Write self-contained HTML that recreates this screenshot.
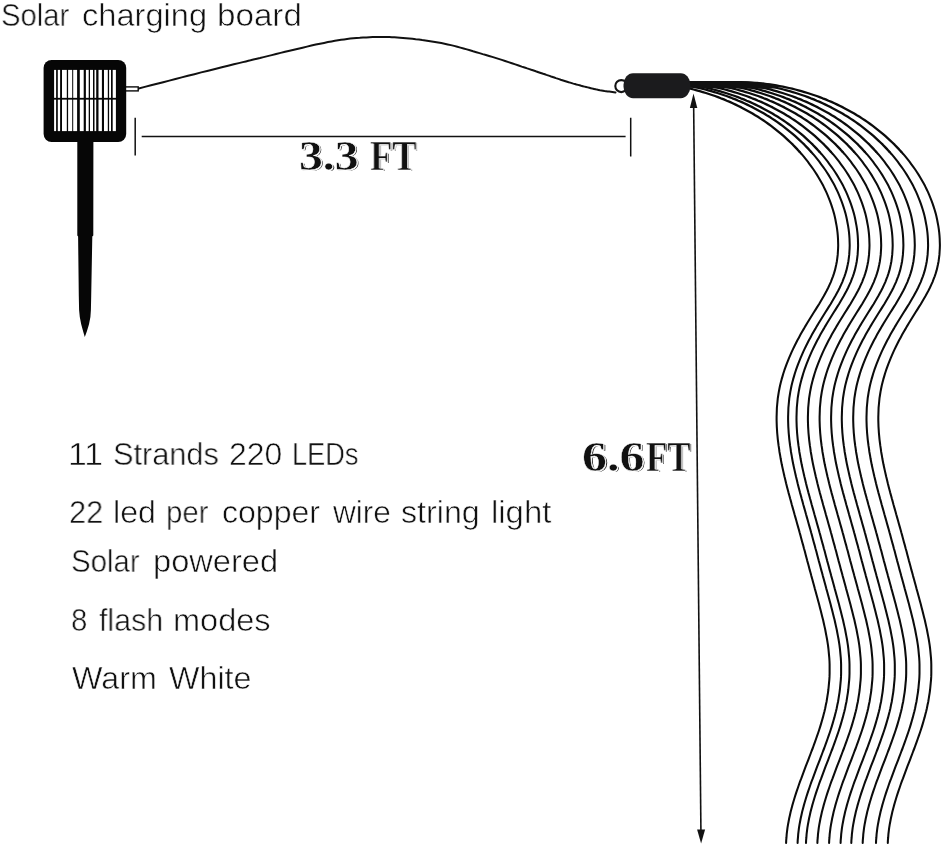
<!DOCTYPE html>
<html>
<head>
<meta charset="utf-8">
<title>Solar charging board</title>
<style>
html,body{margin:0;padding:0;background:#fff;}
body{width:943px;height:848px;position:relative;overflow:hidden;font-family:"Liberation Sans",sans-serif;}
svg{position:absolute;left:0;top:0;}
.t{will-change:transform;position:absolute;white-space:nowrap;color:#111;-webkit-text-stroke:0.55px #fff;font-family:"Liberation Sans",sans-serif;font-size:31.5px;line-height:31.5px;transform-origin:0 0;}
.d{will-change:transform;position:absolute;white-space:nowrap;color:#111;-webkit-text-stroke:0.45px #fff;text-shadow:0.7px 0.7px 0 #fff,0.7px 0 0 #fff,0 0.7px 0 #fff,1.4px 1.4px 0 #222;font-family:"Liberation Serif",serif;font-weight:bold;font-size:42px;line-height:42px;transform-origin:0 0;}
</style>
</head>
<body>
<svg width="943" height="848" viewBox="0 0 943 848">
<g fill="none" stroke="#0b0b0b" stroke-linecap="round" stroke-linejoin="round">
<path d="M687.3 88.0 L690.4 88.7 L693.6 89.5 L696.7 90.3 L699.7 91.2 L702.8 92.1 L705.9 93.0 L708.9 94.0 L711.9 95.0 L715.0 96.0 L718.0 97.1 L720.9 98.3 L723.9 99.4 L726.8 100.7 L729.8 101.9 L732.7 103.2 L735.6 104.6 L738.4 106.0 L741.3 107.4 L744.1 108.9 L746.9 110.4 L749.7 111.9 L752.5 113.5 L755.2 115.2 L757.9 116.8 L760.6 118.6 L763.2 120.3 L765.9 122.1 L768.5 124.0 L771.1 125.9 L773.6 127.8 L776.1 129.8 L778.6 131.8 L781.1 133.8 L783.5 135.9 L785.9 138.1 L788.3 140.3 L790.6 142.5 L792.9 144.7 L795.2 147.1 L797.4 149.4 L799.5 151.8" stroke-width="2.3"/>
<path d="M799.5 151.8 L801.7 154.2 L803.8 156.7 L805.8 159.2 L807.8 161.7 L809.7 164.3 L811.6 166.9 L813.5 169.5 L815.3 172.2 L817.0 174.9 L818.7 177.7 L820.3 180.5 L821.9 183.3 L823.4 186.1 L824.8 189.0 L826.2 191.9 L827.5 194.9 L828.7 197.8 L829.9 200.8 L831.0 203.9 L832.0 206.9 L833.0 210.0 L833.9 213.1 L834.7 216.3 L835.4 219.5 L836.0 222.7 L836.6 225.9 L837.1 229.1 L837.5 232.3 L837.8 235.6 L838.0 238.8 L838.1 242.1 L838.2 245.3 L838.1 248.5 L837.9 251.7 L837.7 254.9 L837.3 258.1 L836.9 261.2 L836.3 264.3 L835.6 267.4 L834.9 270.4 L834.0 273.4 L833.0 276.3 L831.9 279.2 L830.8 282.1 L829.5 284.9 L828.2 287.7 L826.8 290.5 L825.3 293.2 L823.8 296.0 L822.2 298.7 L820.6 301.4 L819.0 304.2 L817.3 306.9 L815.6 309.6 L813.9 312.3 L812.2 315.0 L810.5 317.8 L808.8 320.5 L807.1 323.3 L805.4 326.1 L803.8 328.9 L802.1 331.7 L800.5 334.6 L799.0 337.4 L797.4 340.3 L795.9 343.3 L794.4 346.2 L793.0 349.1 L791.6 352.1 L790.3 355.1 L789.0 358.1 L787.8 361.1 L786.6 364.1 L785.5 367.2 L784.4 370.2 L783.4 373.3 L782.5 376.4 L781.6 379.4 L780.8 382.5 L780.0 385.7 L779.4 388.8 L778.8 391.9 L778.3 395.0 L777.8 398.2 L777.5 401.3 L777.2 404.5 L776.9 407.6 L776.8 410.8 L776.7 414.0 L776.6 417.1 L776.6 420.3 L776.7 423.5 L776.8 426.6 L777.0 429.8 L777.2 433.0 L777.5 436.2 L777.8 439.3 L778.2 442.5 L778.6 445.7 L779.1 448.8 L779.5 452.0 L780.1 455.2 L780.6 458.3 L781.2 461.5 L781.8 464.6 L782.5 467.7 L783.2 470.9 L783.9 474.0 L784.6 477.1 L785.4 480.2 L786.1 483.3 L786.9 486.4 L787.7 489.5 L788.5 492.6 L789.4 495.7 L790.2 498.8 L791.1 501.9 L791.9 505.0 L792.8 508.1 L793.7 511.2 L794.5 514.3 L795.4 517.4 L796.3 520.5 L797.1 523.5 L798.0 526.6 L798.9 529.7 L799.7 532.8 L800.6 535.9 L801.4 539.0 L802.2 542.0 L803.1 545.1 L803.9 548.2 L804.8 551.3 L805.6 554.4 L806.4 557.5 L807.2 560.6 L808.1 563.7 L808.9 566.8 L809.7 569.9 L810.6 573.0 L811.4 576.1 L812.3 579.2 L813.1 582.3 L814.0 585.5 L814.8 588.6 L815.7 591.7 L816.5 594.8 L817.4 598.0 L818.2 601.1 L819.1 604.3 L819.9 607.4 L820.7 610.6 L821.5 613.7 L822.3 616.9 L823.1 620.0 L823.8 623.2 L824.5 626.4 L825.2 629.5 L825.8 632.7 L826.4 635.9 L827.0 639.0 L827.5 642.2 L828.0 645.4 L828.4 648.5 L828.7 651.7 L829.0 654.8 L829.3 658.0 L829.5 661.2 L829.6 664.3 L829.6 667.5 L829.6 670.6 L829.6 673.8 L829.5 676.9 L829.3 680.1 L829.0 683.2 L828.7 686.3 L828.4 689.5 L828.0 692.6 L827.5 695.7 L827.0 698.8 L826.5 702.0 L825.8 705.1 L825.2 708.2 L824.5 711.2 L823.7 714.3 L822.9 717.4 L822.0 720.5 L821.1 723.6 L820.2 726.6 L819.2 729.7 L818.2 732.7 L817.1 735.8 L816.1 738.8 L815.0 741.9 L813.9 744.9 L812.8 748.0 L811.6 751.0 L810.5 754.0 L809.3 757.1 L808.2 760.1 L807.0 763.2 L805.8 766.2 L804.7 769.2 L803.5 772.3 L802.4 775.3 L801.3 778.4 L800.1 781.4 L799.0 784.5 L798.0 787.5 L796.9 790.6 L795.9 793.6 L794.9 796.7 L794.0 799.8 L793.1 802.8 L792.2 805.9 L791.4 809.0 L790.6 812.1 L789.9 815.2 L789.2 818.3 L788.6 821.5 L788.0 824.6 L787.5 827.7 L787.1 830.9 L786.7 834.1 L786.5 837.2 L786.2 840.4 L786.1 843.0" stroke-width="2.05"/>
<path d="M689.4 86.1 L692.6 86.7 L695.7 87.3 L698.8 88.0 L701.9 88.7 L705.1 89.5 L708.2 90.3 L711.2 91.2 L714.3 92.1 L717.4 93.0 L720.4 94.0 L723.4 95.0 L726.5 96.0 L729.5 97.1 L732.4 98.3 L735.4 99.4 L738.3 100.7 L741.3 101.9 L744.2 103.2 L747.1 104.6 L749.9 106.0 L752.8 107.4 L755.6 108.9 L758.4 110.4 L761.2 111.9 L764.0 113.5 L766.7 115.2 L769.4 116.8 L772.1 118.6 L774.7 120.3 L777.4 122.1 L780.0 124.0 L782.6 125.9 L785.1 127.8 L787.6 129.8 L790.1 131.8 L792.6 133.8 L795.0 135.9 L797.4 138.1 L799.8 140.3 L802.1 142.5 L804.4 144.7 L806.7 147.1 L808.9 149.4 L811.0 151.8" stroke-width="2.3"/>
<path d="M811.0 151.8 L813.2 154.2 L815.3 156.7 L817.3 159.2 L819.3 161.7 L821.2 164.3 L823.1 166.9 L825.0 169.5 L826.8 172.2 L828.5 174.9 L830.2 177.7 L831.8 180.5 L833.4 183.3 L834.9 186.1 L836.3 189.0 L837.7 191.9 L839.0 194.9 L840.2 197.8 L841.4 200.8 L842.5 203.9 L843.5 206.9 L844.5 210.0 L845.4 213.1 L846.2 216.3 L846.9 219.5 L847.5 222.7 L848.1 225.9 L848.6 229.1 L849.0 232.3 L849.3 235.6 L849.5 238.8 L849.6 242.1 L849.7 245.3 L849.6 248.5 L849.4 251.7 L849.2 254.9 L848.8 258.1 L848.4 261.2 L847.8 264.3 L847.1 267.4 L846.4 270.4 L845.5 273.4 L844.5 276.3 L843.4 279.2 L842.3 282.1 L841.0 284.9 L839.7 287.7 L838.3 290.5 L836.8 293.2 L835.3 296.0 L833.7 298.7 L832.1 301.4 L830.5 304.2 L828.8 306.9 L827.1 309.6 L825.4 312.3 L823.7 315.0 L822.0 317.8 L820.3 320.5 L818.6 323.3 L816.9 326.1 L815.3 328.9 L813.6 331.7 L812.0 334.6 L810.5 337.4 L808.9 340.3 L807.4 343.3 L805.9 346.2 L804.5 349.1 L803.1 352.1 L801.8 355.1 L800.5 358.1 L799.3 361.1 L798.1 364.1 L797.0 367.2 L795.9 370.2 L794.9 373.3 L794.0 376.4 L793.1 379.4 L792.3 382.5 L791.5 385.7 L790.9 388.8 L790.3 391.9 L789.8 395.0 L789.3 398.2 L789.0 401.3 L788.7 404.5 L788.4 407.6 L788.3 410.8 L788.2 414.0 L788.1 417.1 L788.1 420.3 L788.2 423.5 L788.3 426.6 L788.5 429.8 L788.7 433.0 L789.0 436.2 L789.3 439.3 L789.7 442.5 L790.1 445.7 L790.6 448.8 L791.0 452.0 L791.6 455.2 L792.1 458.3 L792.7 461.5 L793.3 464.6 L794.0 467.7 L794.7 470.9 L795.4 474.0 L796.1 477.1 L796.9 480.2 L797.6 483.3 L798.4 486.4 L799.2 489.5 L800.0 492.6 L800.9 495.7 L801.7 498.8 L802.6 501.9 L803.4 505.0 L804.3 508.1 L805.2 511.2 L806.0 514.3 L806.9 517.4 L807.8 520.5 L808.6 523.5 L809.5 526.6 L810.4 529.7 L811.2 532.8 L812.1 535.9 L812.9 539.0 L813.7 542.0 L814.6 545.1 L815.4 548.2 L816.3 551.3 L817.1 554.4 L817.9 557.5 L818.7 560.6 L819.6 563.7 L820.4 566.8 L821.2 569.9 L822.1 573.0 L822.9 576.1 L823.8 579.2 L824.6 582.3 L825.5 585.5 L826.3 588.6 L827.2 591.7 L828.0 594.8 L828.9 598.0 L829.7 601.1 L830.6 604.3 L831.4 607.4 L832.2 610.6 L833.0 613.7 L833.8 616.9 L834.6 620.0 L835.3 623.2 L836.0 626.4 L836.7 629.5 L837.3 632.7 L837.9 635.9 L838.5 639.0 L839.0 642.2 L839.5 645.4 L839.9 648.5 L840.2 651.7 L840.5 654.8 L840.8 658.0 L841.0 661.2 L841.1 664.3 L841.1 667.5 L841.1 670.6 L841.1 673.8 L841.0 676.9 L840.8 680.1 L840.5 683.2 L840.2 686.3 L839.9 689.5 L839.5 692.6 L839.0 695.7 L838.5 698.8 L838.0 702.0 L837.3 705.1 L836.7 708.2 L836.0 711.2 L835.2 714.3 L834.4 717.4 L833.5 720.5 L832.6 723.6 L831.7 726.6 L830.7 729.7 L829.7 732.7 L828.6 735.8 L827.6 738.8 L826.5 741.9 L825.4 744.9 L824.3 748.0 L823.1 751.0 L822.0 754.0 L820.8 757.1 L819.7 760.1 L818.5 763.2 L817.3 766.2 L816.2 769.2 L815.0 772.3 L813.9 775.3 L812.8 778.4 L811.6 781.4 L810.5 784.5 L809.5 787.5 L808.4 790.6 L807.4 793.6 L806.4 796.7 L805.5 799.8 L804.6 802.8 L803.7 805.9 L802.9 809.0 L802.1 812.1 L801.4 815.2 L800.7 818.3 L800.1 821.5 L799.5 824.6 L799.0 827.7 L798.6 830.9 L798.2 834.1 L798.0 837.2 L797.7 840.4 L797.6 843.0" stroke-width="2.05"/>
<path d="M688.3 84.5 L691.5 85.0 L694.6 85.5 L697.8 86.1 L701.0 86.7 L704.1 87.3 L707.2 88.0 L710.3 88.7 L713.5 89.5 L716.6 90.3 L719.6 91.2 L722.7 92.1 L725.8 93.0 L728.8 94.0 L731.8 95.0 L734.9 96.0 L737.9 97.1 L740.8 98.3 L743.8 99.4 L746.7 100.7 L749.7 101.9 L752.6 103.2 L755.5 104.6 L758.3 106.0 L761.2 107.4 L764.0 108.9 L766.8 110.4 L769.6 111.9 L772.4 113.5 L775.1 115.2 L777.8 116.8 L780.5 118.6 L783.1 120.3 L785.8 122.1 L788.4 124.0 L791.0 125.9 L793.5 127.8 L796.0 129.8 L798.5 131.8 L801.0 133.8 L803.4 135.9 L805.8 138.1 L808.2 140.3 L810.5 142.5 L812.8 144.7 L815.1 147.1 L817.3 149.4 L819.4 151.8" stroke-width="2.3"/>
<path d="M819.4 151.8 L821.6 154.2 L823.7 156.7 L825.7 159.2 L827.7 161.7 L829.6 164.3 L831.5 166.9 L833.4 169.5 L835.2 172.2 L836.9 174.9 L838.6 177.7 L840.2 180.5 L841.8 183.3 L843.3 186.1 L844.7 189.0 L846.1 191.9 L847.4 194.9 L848.6 197.8 L849.8 200.8 L850.9 203.9 L851.9 206.9 L852.9 210.0 L853.8 213.1 L854.6 216.3 L855.3 219.5 L855.9 222.7 L856.5 225.9 L857.0 229.1 L857.4 232.3 L857.7 235.6 L857.9 238.8 L858.0 242.1 L858.1 245.3 L858.0 248.5 L857.8 251.7 L857.6 254.9 L857.2 258.1 L856.8 261.2 L856.2 264.3 L855.5 267.4 L854.8 270.4 L853.9 273.4 L852.9 276.3 L851.8 279.2 L850.7 282.1 L849.4 284.9 L848.1 287.7 L846.7 290.5 L845.2 293.2 L843.7 296.0 L842.1 298.7 L840.5 301.4 L838.9 304.2 L837.2 306.9 L835.5 309.6 L833.8 312.3 L832.1 315.0 L830.4 317.8 L828.7 320.5 L827.0 323.3 L825.3 326.1 L823.7 328.9 L822.0 331.7 L820.4 334.6 L818.9 337.4 L817.3 340.3 L815.8 343.3 L814.3 346.2 L812.9 349.1 L811.5 352.1 L810.2 355.1 L808.9 358.1 L807.7 361.1 L806.5 364.1 L805.4 367.2 L804.3 370.2 L803.3 373.3 L802.4 376.4 L801.5 379.4 L800.7 382.5 L799.9 385.7 L799.3 388.8 L798.7 391.9 L798.2 395.0 L797.7 398.2 L797.4 401.3 L797.1 404.5 L796.8 407.6 L796.7 410.8 L796.6 414.0 L796.5 417.1 L796.5 420.3 L796.6 423.5 L796.7 426.6 L796.9 429.8 L797.1 433.0 L797.4 436.2 L797.7 439.3 L798.1 442.5 L798.5 445.7 L799.0 448.8 L799.4 452.0 L800.0 455.2 L800.5 458.3 L801.1 461.5 L801.7 464.6 L802.4 467.7 L803.1 470.9 L803.8 474.0 L804.5 477.1 L805.3 480.2 L806.0 483.3 L806.8 486.4 L807.6 489.5 L808.4 492.6 L809.3 495.7 L810.1 498.8 L811.0 501.9 L811.8 505.0 L812.7 508.1 L813.6 511.2 L814.4 514.3 L815.3 517.4 L816.2 520.5 L817.0 523.5 L817.9 526.6 L818.8 529.7 L819.6 532.8 L820.5 535.9 L821.3 539.0 L822.1 542.0 L823.0 545.1 L823.8 548.2 L824.7 551.3 L825.5 554.4 L826.3 557.5 L827.1 560.6 L828.0 563.7 L828.8 566.8 L829.6 569.9 L830.5 573.0 L831.3 576.1 L832.2 579.2 L833.0 582.3 L833.9 585.5 L834.7 588.6 L835.6 591.7 L836.4 594.8 L837.3 598.0 L838.1 601.1 L839.0 604.3 L839.8 607.4 L840.6 610.6 L841.4 613.7 L842.2 616.9 L843.0 620.0 L843.7 623.2 L844.4 626.4 L845.1 629.5 L845.7 632.7 L846.3 635.9 L846.9 639.0 L847.4 642.2 L847.9 645.4 L848.3 648.5 L848.6 651.7 L848.9 654.8 L849.2 658.0 L849.4 661.2 L849.5 664.3 L849.5 667.5 L849.5 670.6 L849.5 673.8 L849.4 676.9 L849.2 680.1 L848.9 683.2 L848.6 686.3 L848.3 689.5 L847.9 692.6 L847.4 695.7 L846.9 698.8 L846.4 702.0 L845.7 705.1 L845.1 708.2 L844.4 711.2 L843.6 714.3 L842.8 717.4 L841.9 720.5 L841.0 723.6 L840.1 726.6 L839.1 729.7 L838.1 732.7 L837.0 735.8 L836.0 738.8 L834.9 741.9 L833.8 744.9 L832.7 748.0 L831.5 751.0 L830.4 754.0 L829.2 757.1 L828.1 760.1 L826.9 763.2 L825.7 766.2 L824.6 769.2 L823.4 772.3 L822.3 775.3 L821.2 778.4 L820.0 781.4 L818.9 784.5 L817.9 787.5 L816.8 790.6 L815.8 793.6 L814.8 796.7 L813.9 799.8 L813.0 802.8 L812.1 805.9 L811.3 809.0 L810.5 812.1 L809.8 815.2 L809.1 818.3 L808.5 821.5 L807.9 824.6 L807.4 827.7 L807.0 830.9 L806.6 834.1 L806.4 837.2 L806.1 840.4 L806.0 843.0" stroke-width="2.05"/>
<path d="M690.1 83.3 L693.3 83.7 L696.5 84.1 L699.7 84.5 L702.9 85.0 L706.0 85.5 L709.2 86.1 L712.4 86.7 L715.5 87.3 L718.6 88.0 L721.7 88.7 L724.9 89.5 L728.0 90.3 L731.0 91.2 L734.1 92.1 L737.2 93.0 L740.2 94.0 L743.2 95.0 L746.3 96.0 L749.3 97.1 L752.2 98.3 L755.2 99.4 L758.1 100.7 L761.1 101.9 L764.0 103.2 L766.9 104.6 L769.7 106.0 L772.6 107.4 L775.4 108.9 L778.2 110.4 L781.0 111.9 L783.8 113.5 L786.5 115.2 L789.2 116.8 L791.9 118.6 L794.5 120.3 L797.2 122.1 L799.8 124.0 L802.4 125.9 L804.9 127.8 L807.4 129.8 L809.9 131.8 L812.4 133.8 L814.8 135.9 L817.2 138.1 L819.6 140.3 L821.9 142.5 L824.2 144.7 L826.5 147.1 L828.7 149.4 L830.8 151.8" stroke-width="2.3"/>
<path d="M830.8 151.8 L833.0 154.2 L835.1 156.7 L837.1 159.2 L839.1 161.7 L841.0 164.3 L842.9 166.9 L844.8 169.5 L846.6 172.2 L848.3 174.9 L850.0 177.7 L851.6 180.5 L853.2 183.3 L854.7 186.1 L856.1 189.0 L857.5 191.9 L858.8 194.9 L860.0 197.8 L861.2 200.8 L862.3 203.9 L863.3 206.9 L864.3 210.0 L865.2 213.1 L866.0 216.3 L866.7 219.5 L867.3 222.7 L867.9 225.9 L868.4 229.1 L868.8 232.3 L869.1 235.6 L869.3 238.8 L869.4 242.1 L869.5 245.3 L869.4 248.5 L869.2 251.7 L869.0 254.9 L868.6 258.1 L868.2 261.2 L867.6 264.3 L866.9 267.4 L866.2 270.4 L865.3 273.4 L864.3 276.3 L863.2 279.2 L862.1 282.1 L860.8 284.9 L859.5 287.7 L858.1 290.5 L856.6 293.2 L855.1 296.0 L853.5 298.7 L851.9 301.4 L850.3 304.2 L848.6 306.9 L846.9 309.6 L845.2 312.3 L843.5 315.0 L841.8 317.8 L840.1 320.5 L838.4 323.3 L836.7 326.1 L835.1 328.9 L833.4 331.7 L831.8 334.6 L830.3 337.4 L828.7 340.3 L827.2 343.3 L825.7 346.2 L824.3 349.1 L822.9 352.1 L821.6 355.1 L820.3 358.1 L819.1 361.1 L817.9 364.1 L816.8 367.2 L815.7 370.2 L814.7 373.3 L813.8 376.4 L812.9 379.4 L812.1 382.5 L811.3 385.7 L810.7 388.8 L810.1 391.9 L809.6 395.0 L809.1 398.2 L808.8 401.3 L808.5 404.5 L808.2 407.6 L808.1 410.8 L808.0 414.0 L807.9 417.1 L807.9 420.3 L808.0 423.5 L808.1 426.6 L808.3 429.8 L808.5 433.0 L808.8 436.2 L809.1 439.3 L809.5 442.5 L809.9 445.7 L810.4 448.8 L810.8 452.0 L811.4 455.2 L811.9 458.3 L812.5 461.5 L813.1 464.6 L813.8 467.7 L814.5 470.9 L815.2 474.0 L815.9 477.1 L816.7 480.2 L817.4 483.3 L818.2 486.4 L819.0 489.5 L819.8 492.6 L820.7 495.7 L821.5 498.8 L822.4 501.9 L823.2 505.0 L824.1 508.1 L825.0 511.2 L825.8 514.3 L826.7 517.4 L827.6 520.5 L828.4 523.5 L829.3 526.6 L830.2 529.7 L831.0 532.8 L831.9 535.9 L832.7 539.0 L833.5 542.0 L834.4 545.1 L835.2 548.2 L836.1 551.3 L836.9 554.4 L837.7 557.5 L838.5 560.6 L839.4 563.7 L840.2 566.8 L841.0 569.9 L841.9 573.0 L842.7 576.1 L843.6 579.2 L844.4 582.3 L845.3 585.5 L846.1 588.6 L847.0 591.7 L847.8 594.8 L848.7 598.0 L849.5 601.1 L850.4 604.3 L851.2 607.4 L852.0 610.6 L852.8 613.7 L853.6 616.9 L854.4 620.0 L855.1 623.2 L855.8 626.4 L856.5 629.5 L857.1 632.7 L857.7 635.9 L858.3 639.0 L858.8 642.2 L859.3 645.4 L859.7 648.5 L860.0 651.7 L860.3 654.8 L860.6 658.0 L860.8 661.2 L860.9 664.3 L860.9 667.5 L860.9 670.6 L860.9 673.8 L860.8 676.9 L860.6 680.1 L860.3 683.2 L860.0 686.3 L859.7 689.5 L859.3 692.6 L858.8 695.7 L858.3 698.8 L857.8 702.0 L857.1 705.1 L856.5 708.2 L855.8 711.2 L855.0 714.3 L854.2 717.4 L853.3 720.5 L852.4 723.6 L851.5 726.6 L850.5 729.7 L849.5 732.7 L848.4 735.8 L847.4 738.8 L846.3 741.9 L845.2 744.9 L844.1 748.0 L842.9 751.0 L841.8 754.0 L840.6 757.1 L839.5 760.1 L838.3 763.2 L837.1 766.2 L836.0 769.2 L834.8 772.3 L833.7 775.3 L832.6 778.4 L831.4 781.4 L830.3 784.5 L829.3 787.5 L828.2 790.6 L827.2 793.6 L826.2 796.7 L825.3 799.8 L824.4 802.8 L823.5 805.9 L822.7 809.0 L821.9 812.1 L821.2 815.2 L820.5 818.3 L819.9 821.5 L819.3 824.6 L818.8 827.7 L818.4 830.9 L818.0 834.1 L817.8 837.2 L817.5 840.4 L817.4 843.0" stroke-width="2.05"/>
<path d="M689.0 82.4 L692.2 82.6 L695.4 82.8 L698.6 83.0 L701.8 83.3 L705.0 83.7 L708.2 84.1 L711.4 84.5 L714.6 85.0 L717.7 85.5 L720.9 86.1 L724.1 86.7 L727.2 87.3 L730.3 88.0 L733.4 88.7 L736.6 89.5 L739.7 90.3 L742.7 91.2 L745.8 92.1 L748.9 93.0 L751.9 94.0 L754.9 95.0 L758.0 96.0 L761.0 97.1 L763.9 98.3 L766.9 99.4 L769.8 100.7 L772.8 101.9 L775.7 103.2 L778.6 104.6 L781.4 106.0 L784.3 107.4 L787.1 108.9 L789.9 110.4 L792.7 111.9 L795.5 113.5 L798.2 115.2 L800.9 116.8 L803.6 118.6 L806.2 120.3 L808.9 122.1 L811.5 124.0 L814.1 125.9 L816.6 127.8 L819.1 129.8 L821.6 131.8 L824.1 133.8 L826.5 135.9 L828.9 138.1 L831.3 140.3 L833.6 142.5 L835.9 144.7 L838.2 147.1 L840.4 149.4 L842.5 151.8" stroke-width="2.3"/>
<path d="M842.5 151.8 L844.7 154.2 L846.8 156.7 L848.8 159.2 L850.8 161.7 L852.7 164.3 L854.6 166.9 L856.5 169.5 L858.3 172.2 L860.0 174.9 L861.7 177.7 L863.3 180.5 L864.9 183.3 L866.4 186.1 L867.8 189.0 L869.2 191.9 L870.5 194.9 L871.7 197.8 L872.9 200.8 L874.0 203.9 L875.0 206.9 L876.0 210.0 L876.9 213.1 L877.7 216.3 L878.4 219.5 L879.0 222.7 L879.6 225.9 L880.1 229.1 L880.5 232.3 L880.8 235.6 L881.0 238.8 L881.1 242.1 L881.2 245.3 L881.1 248.5 L880.9 251.7 L880.7 254.9 L880.3 258.1 L879.9 261.2 L879.3 264.3 L878.6 267.4 L877.9 270.4 L877.0 273.4 L876.0 276.3 L874.9 279.2 L873.8 282.1 L872.5 284.9 L871.2 287.7 L869.8 290.5 L868.3 293.2 L866.8 296.0 L865.2 298.7 L863.6 301.4 L862.0 304.2 L860.3 306.9 L858.6 309.6 L856.9 312.3 L855.2 315.0 L853.5 317.8 L851.8 320.5 L850.1 323.3 L848.4 326.1 L846.8 328.9 L845.1 331.7 L843.5 334.6 L842.0 337.4 L840.4 340.3 L838.9 343.3 L837.4 346.2 L836.0 349.1 L834.6 352.1 L833.3 355.1 L832.0 358.1 L830.8 361.1 L829.6 364.1 L828.5 367.2 L827.4 370.2 L826.4 373.3 L825.5 376.4 L824.6 379.4 L823.8 382.5 L823.0 385.7 L822.4 388.8 L821.8 391.9 L821.3 395.0 L820.8 398.2 L820.5 401.3 L820.2 404.5 L819.9 407.6 L819.8 410.8 L819.7 414.0 L819.6 417.1 L819.6 420.3 L819.7 423.5 L819.8 426.6 L820.0 429.8 L820.2 433.0 L820.5 436.2 L820.8 439.3 L821.2 442.5 L821.6 445.7 L822.1 448.8 L822.5 452.0 L823.1 455.2 L823.6 458.3 L824.2 461.5 L824.8 464.6 L825.5 467.7 L826.2 470.9 L826.9 474.0 L827.6 477.1 L828.4 480.2 L829.1 483.3 L829.9 486.4 L830.7 489.5 L831.5 492.6 L832.4 495.7 L833.2 498.8 L834.1 501.9 L834.9 505.0 L835.8 508.1 L836.7 511.2 L837.5 514.3 L838.4 517.4 L839.3 520.5 L840.1 523.5 L841.0 526.6 L841.9 529.7 L842.7 532.8 L843.6 535.9 L844.4 539.0 L845.2 542.0 L846.1 545.1 L846.9 548.2 L847.8 551.3 L848.6 554.4 L849.4 557.5 L850.2 560.6 L851.1 563.7 L851.9 566.8 L852.7 569.9 L853.6 573.0 L854.4 576.1 L855.3 579.2 L856.1 582.3 L857.0 585.5 L857.8 588.6 L858.7 591.7 L859.5 594.8 L860.4 598.0 L861.2 601.1 L862.1 604.3 L862.9 607.4 L863.7 610.6 L864.5 613.7 L865.3 616.9 L866.1 620.0 L866.8 623.2 L867.5 626.4 L868.2 629.5 L868.8 632.7 L869.4 635.9 L870.0 639.0 L870.5 642.2 L871.0 645.4 L871.4 648.5 L871.7 651.7 L872.0 654.8 L872.3 658.0 L872.5 661.2 L872.6 664.3 L872.6 667.5 L872.6 670.6 L872.6 673.8 L872.5 676.9 L872.3 680.1 L872.0 683.2 L871.7 686.3 L871.4 689.5 L871.0 692.6 L870.5 695.7 L870.0 698.8 L869.5 702.0 L868.8 705.1 L868.2 708.2 L867.5 711.2 L866.7 714.3 L865.9 717.4 L865.0 720.5 L864.1 723.6 L863.2 726.6 L862.2 729.7 L861.2 732.7 L860.1 735.8 L859.1 738.8 L858.0 741.9 L856.9 744.9 L855.8 748.0 L854.6 751.0 L853.5 754.0 L852.3 757.1 L851.2 760.1 L850.0 763.2 L848.8 766.2 L847.7 769.2 L846.5 772.3 L845.4 775.3 L844.3 778.4 L843.1 781.4 L842.0 784.5 L841.0 787.5 L839.9 790.6 L838.9 793.6 L837.9 796.7 L837.0 799.8 L836.1 802.8 L835.2 805.9 L834.4 809.0 L833.6 812.1 L832.9 815.2 L832.2 818.3 L831.6 821.5 L831.0 824.6 L830.5 827.7 L830.1 830.9 L829.7 834.1 L829.5 837.2 L829.2 840.4 L829.1 843.0" stroke-width="2.05"/>
<path d="M687.7 82.1 L690.9 82.2 L694.1 82.2 L697.3 82.3 L700.5 82.4 L703.7 82.6 L706.9 82.8 L710.1 83.0 L713.3 83.3 L716.5 83.7 L719.7 84.1 L722.9 84.5 L726.1 85.0 L729.2 85.5 L732.4 86.1 L735.6 86.7 L738.7 87.3 L741.8 88.0 L744.9 88.7 L748.1 89.5 L751.2 90.3 L754.2 91.2 L757.3 92.1 L760.4 93.0 L763.4 94.0 L766.4 95.0 L769.5 96.0 L772.5 97.1 L775.4 98.3 L778.4 99.4 L781.3 100.7 L784.3 101.9 L787.2 103.2 L790.1 104.6 L792.9 106.0 L795.8 107.4 L798.6 108.9 L801.4 110.4 L804.2 111.9 L807.0 113.5 L809.7 115.2 L812.4 116.8 L815.1 118.6 L817.7 120.3 L820.4 122.1 L823.0 124.0 L825.6 125.9 L828.1 127.8 L830.6 129.8 L833.1 131.8 L835.6 133.8 L838.0 135.9 L840.4 138.1 L842.8 140.3 L845.1 142.5 L847.4 144.7 L849.7 147.1 L851.9 149.4 L854.0 151.8" stroke-width="2.3"/>
<path d="M854.0 151.8 L856.2 154.2 L858.3 156.7 L860.3 159.2 L862.3 161.7 L864.2 164.3 L866.1 166.9 L868.0 169.5 L869.8 172.2 L871.5 174.9 L873.2 177.7 L874.8 180.5 L876.4 183.3 L877.9 186.1 L879.3 189.0 L880.7 191.9 L882.0 194.9 L883.2 197.8 L884.4 200.8 L885.5 203.9 L886.5 206.9 L887.5 210.0 L888.4 213.1 L889.2 216.3 L889.9 219.5 L890.5 222.7 L891.1 225.9 L891.6 229.1 L892.0 232.3 L892.3 235.6 L892.5 238.8 L892.6 242.1 L892.7 245.3 L892.6 248.5 L892.4 251.7 L892.2 254.9 L891.8 258.1 L891.4 261.2 L890.8 264.3 L890.1 267.4 L889.4 270.4 L888.5 273.4 L887.5 276.3 L886.4 279.2 L885.3 282.1 L884.0 284.9 L882.7 287.7 L881.3 290.5 L879.8 293.2 L878.3 296.0 L876.7 298.7 L875.1 301.4 L873.5 304.2 L871.8 306.9 L870.1 309.6 L868.4 312.3 L866.7 315.0 L865.0 317.8 L863.3 320.5 L861.6 323.3 L859.9 326.1 L858.3 328.9 L856.6 331.7 L855.0 334.6 L853.5 337.4 L851.9 340.3 L850.4 343.3 L848.9 346.2 L847.5 349.1 L846.1 352.1 L844.8 355.1 L843.5 358.1 L842.3 361.1 L841.1 364.1 L840.0 367.2 L838.9 370.2 L837.9 373.3 L837.0 376.4 L836.1 379.4 L835.3 382.5 L834.5 385.7 L833.9 388.8 L833.3 391.9 L832.8 395.0 L832.3 398.2 L832.0 401.3 L831.7 404.5 L831.4 407.6 L831.3 410.8 L831.2 414.0 L831.1 417.1 L831.1 420.3 L831.2 423.5 L831.3 426.6 L831.5 429.8 L831.7 433.0 L832.0 436.2 L832.3 439.3 L832.7 442.5 L833.1 445.7 L833.6 448.8 L834.0 452.0 L834.6 455.2 L835.1 458.3 L835.7 461.5 L836.3 464.6 L837.0 467.7 L837.7 470.9 L838.4 474.0 L839.1 477.1 L839.9 480.2 L840.6 483.3 L841.4 486.4 L842.2 489.5 L843.0 492.6 L843.9 495.7 L844.7 498.8 L845.6 501.9 L846.4 505.0 L847.3 508.1 L848.2 511.2 L849.0 514.3 L849.9 517.4 L850.8 520.5 L851.6 523.5 L852.5 526.6 L853.4 529.7 L854.2 532.8 L855.1 535.9 L855.9 539.0 L856.7 542.0 L857.6 545.1 L858.4 548.2 L859.3 551.3 L860.1 554.4 L860.9 557.5 L861.7 560.6 L862.6 563.7 L863.4 566.8 L864.2 569.9 L865.1 573.0 L865.9 576.1 L866.8 579.2 L867.6 582.3 L868.5 585.5 L869.3 588.6 L870.2 591.7 L871.0 594.8 L871.9 598.0 L872.7 601.1 L873.6 604.3 L874.4 607.4 L875.2 610.6 L876.0 613.7 L876.8 616.9 L877.6 620.0 L878.3 623.2 L879.0 626.4 L879.7 629.5 L880.3 632.7 L880.9 635.9 L881.5 639.0 L882.0 642.2 L882.5 645.4 L882.9 648.5 L883.2 651.7 L883.5 654.8 L883.8 658.0 L884.0 661.2 L884.1 664.3 L884.1 667.5 L884.1 670.6 L884.1 673.8 L884.0 676.9 L883.8 680.1 L883.5 683.2 L883.2 686.3 L882.9 689.5 L882.5 692.6 L882.0 695.7 L881.5 698.8 L881.0 702.0 L880.3 705.1 L879.7 708.2 L879.0 711.2 L878.2 714.3 L877.4 717.4 L876.5 720.5 L875.6 723.6 L874.7 726.6 L873.7 729.7 L872.7 732.7 L871.6 735.8 L870.6 738.8 L869.5 741.9 L868.4 744.9 L867.3 748.0 L866.1 751.0 L865.0 754.0 L863.8 757.1 L862.7 760.1 L861.5 763.2 L860.3 766.2 L859.2 769.2 L858.0 772.3 L856.9 775.3 L855.8 778.4 L854.6 781.4 L853.5 784.5 L852.5 787.5 L851.4 790.6 L850.4 793.6 L849.4 796.7 L848.5 799.8 L847.6 802.8 L846.7 805.9 L845.9 809.0 L845.1 812.1 L844.4 815.2 L843.7 818.3 L843.1 821.5 L842.5 824.6 L842.0 827.7 L841.6 830.9 L841.2 834.1 L841.0 837.2 L840.7 840.4 L840.6 843.0" stroke-width="2.05"/>
<path d="M688.7 82.1 L691.9 82.1 L695.1 82.1 L698.4 82.1 L701.6 82.2 L704.8 82.2 L708.0 82.3 L711.2 82.4 L714.4 82.6 L717.6 82.8 L720.8 83.0 L724.0 83.3 L727.2 83.7 L730.4 84.1 L733.6 84.5 L736.8 85.0 L739.9 85.5 L743.1 86.1 L746.3 86.7 L749.4 87.3 L752.5 88.0 L755.6 88.7 L758.8 89.5 L761.9 90.3 L764.9 91.2 L768.0 92.1 L771.1 93.0 L774.1 94.0 L777.1 95.0 L780.2 96.0 L783.2 97.1 L786.1 98.3 L789.1 99.4 L792.0 100.7 L795.0 101.9 L797.9 103.2 L800.8 104.6 L803.6 106.0 L806.5 107.4 L809.3 108.9 L812.1 110.4 L814.9 111.9 L817.7 113.5 L820.4 115.2 L823.1 116.8 L825.8 118.6 L828.4 120.3 L831.1 122.1 L833.7 124.0 L836.3 125.9 L838.8 127.8 L841.3 129.8 L843.8 131.8 L846.3 133.8 L848.7 135.9 L851.1 138.1 L853.5 140.3 L855.8 142.5 L858.1 144.7 L860.4 147.1 L862.6 149.4 L864.7 151.8" stroke-width="2.3"/>
<path d="M864.7 151.8 L866.9 154.2 L869.0 156.7 L871.0 159.2 L873.0 161.7 L874.9 164.3 L876.8 166.9 L878.7 169.5 L880.5 172.2 L882.2 174.9 L883.9 177.7 L885.5 180.5 L887.1 183.3 L888.6 186.1 L890.0 189.0 L891.4 191.9 L892.7 194.9 L893.9 197.8 L895.1 200.8 L896.2 203.9 L897.2 206.9 L898.2 210.0 L899.1 213.1 L899.9 216.3 L900.6 219.5 L901.2 222.7 L901.8 225.9 L902.3 229.1 L902.7 232.3 L903.0 235.6 L903.2 238.8 L903.3 242.1 L903.4 245.3 L903.3 248.5 L903.1 251.7 L902.9 254.9 L902.5 258.1 L902.1 261.2 L901.5 264.3 L900.8 267.4 L900.1 270.4 L899.2 273.4 L898.2 276.3 L897.1 279.2 L896.0 282.1 L894.7 284.9 L893.4 287.7 L892.0 290.5 L890.5 293.2 L889.0 296.0 L887.4 298.7 L885.8 301.4 L884.2 304.2 L882.5 306.9 L880.8 309.6 L879.1 312.3 L877.4 315.0 L875.7 317.8 L874.0 320.5 L872.3 323.3 L870.6 326.1 L869.0 328.9 L867.3 331.7 L865.7 334.6 L864.2 337.4 L862.6 340.3 L861.1 343.3 L859.6 346.2 L858.2 349.1 L856.8 352.1 L855.5 355.1 L854.2 358.1 L853.0 361.1 L851.8 364.1 L850.7 367.2 L849.6 370.2 L848.6 373.3 L847.7 376.4 L846.8 379.4 L846.0 382.5 L845.2 385.7 L844.6 388.8 L844.0 391.9 L843.5 395.0 L843.0 398.2 L842.7 401.3 L842.4 404.5 L842.1 407.6 L842.0 410.8 L841.9 414.0 L841.8 417.1 L841.8 420.3 L841.9 423.5 L842.0 426.6 L842.2 429.8 L842.4 433.0 L842.7 436.2 L843.0 439.3 L843.4 442.5 L843.8 445.7 L844.3 448.8 L844.7 452.0 L845.3 455.2 L845.8 458.3 L846.4 461.5 L847.0 464.6 L847.7 467.7 L848.4 470.9 L849.1 474.0 L849.8 477.1 L850.6 480.2 L851.3 483.3 L852.1 486.4 L852.9 489.5 L853.7 492.6 L854.6 495.7 L855.4 498.8 L856.3 501.9 L857.1 505.0 L858.0 508.1 L858.9 511.2 L859.7 514.3 L860.6 517.4 L861.5 520.5 L862.3 523.5 L863.2 526.6 L864.1 529.7 L864.9 532.8 L865.8 535.9 L866.6 539.0 L867.4 542.0 L868.3 545.1 L869.1 548.2 L870.0 551.3 L870.8 554.4 L871.6 557.5 L872.4 560.6 L873.3 563.7 L874.1 566.8 L874.9 569.9 L875.8 573.0 L876.6 576.1 L877.5 579.2 L878.3 582.3 L879.2 585.5 L880.0 588.6 L880.9 591.7 L881.7 594.8 L882.6 598.0 L883.4 601.1 L884.3 604.3 L885.1 607.4 L885.9 610.6 L886.7 613.7 L887.5 616.9 L888.3 620.0 L889.0 623.2 L889.7 626.4 L890.4 629.5 L891.0 632.7 L891.6 635.9 L892.2 639.0 L892.7 642.2 L893.2 645.4 L893.6 648.5 L893.9 651.7 L894.2 654.8 L894.5 658.0 L894.7 661.2 L894.8 664.3 L894.8 667.5 L894.8 670.6 L894.8 673.8 L894.7 676.9 L894.5 680.1 L894.2 683.2 L893.9 686.3 L893.6 689.5 L893.2 692.6 L892.7 695.7 L892.2 698.8 L891.7 702.0 L891.0 705.1 L890.4 708.2 L889.7 711.2 L888.9 714.3 L888.1 717.4 L887.2 720.5 L886.3 723.6 L885.4 726.6 L884.4 729.7 L883.4 732.7 L882.3 735.8 L881.3 738.8 L880.2 741.9 L879.1 744.9 L878.0 748.0 L876.8 751.0 L875.7 754.0 L874.5 757.1 L873.4 760.1 L872.2 763.2 L871.0 766.2 L869.9 769.2 L868.7 772.3 L867.6 775.3 L866.5 778.4 L865.3 781.4 L864.2 784.5 L863.2 787.5 L862.1 790.6 L861.1 793.6 L860.1 796.7 L859.2 799.8 L858.3 802.8 L857.4 805.9 L856.6 809.0 L855.8 812.1 L855.1 815.2 L854.4 818.3 L853.8 821.5 L853.2 824.6 L852.7 827.7 L852.3 830.9 L851.9 834.1 L851.7 837.2 L851.4 840.4 L851.3 843.0" stroke-width="2.05"/>
<path d="M687.3 82.2 L690.5 82.2 L693.7 82.2 L696.9 82.2 L700.1 82.1 L703.3 82.1 L706.5 82.1 L709.8 82.1 L713.0 82.2 L716.2 82.2 L719.4 82.3 L722.6 82.4 L725.8 82.6 L729.0 82.8 L732.2 83.0 L735.4 83.3 L738.6 83.7 L741.8 84.1 L745.0 84.5 L748.2 85.0 L751.3 85.5 L754.5 86.1 L757.7 86.7 L760.8 87.3 L763.9 88.0 L767.0 88.7 L770.2 89.5 L773.3 90.3 L776.3 91.2 L779.4 92.1 L782.5 93.0 L785.5 94.0 L788.5 95.0 L791.6 96.0 L794.6 97.1 L797.5 98.3 L800.5 99.4 L803.4 100.7 L806.4 101.9 L809.3 103.2 L812.2 104.6 L815.0 106.0 L817.9 107.4 L820.7 108.9 L823.5 110.4 L826.3 111.9 L829.1 113.5 L831.8 115.2 L834.5 116.8 L837.2 118.6 L839.8 120.3 L842.5 122.1 L845.1 124.0 L847.7 125.9 L850.2 127.8 L852.7 129.8 L855.2 131.8 L857.7 133.8 L860.1 135.9 L862.5 138.1 L864.9 140.3 L867.2 142.5 L869.5 144.7 L871.8 147.1 L874.0 149.4 L876.1 151.8" stroke-width="2.3"/>
<path d="M876.1 151.8 L878.3 154.2 L880.4 156.7 L882.4 159.2 L884.4 161.7 L886.3 164.3 L888.2 166.9 L890.1 169.5 L891.9 172.2 L893.6 174.9 L895.3 177.7 L896.9 180.5 L898.5 183.3 L900.0 186.1 L901.4 189.0 L902.8 191.9 L904.1 194.9 L905.3 197.8 L906.5 200.8 L907.6 203.9 L908.6 206.9 L909.6 210.0 L910.5 213.1 L911.3 216.3 L912.0 219.5 L912.6 222.7 L913.2 225.9 L913.7 229.1 L914.1 232.3 L914.4 235.6 L914.6 238.8 L914.7 242.1 L914.8 245.3 L914.7 248.5 L914.5 251.7 L914.3 254.9 L913.9 258.1 L913.5 261.2 L912.9 264.3 L912.2 267.4 L911.5 270.4 L910.6 273.4 L909.6 276.3 L908.5 279.2 L907.4 282.1 L906.1 284.9 L904.8 287.7 L903.4 290.5 L901.9 293.2 L900.4 296.0 L898.8 298.7 L897.2 301.4 L895.6 304.2 L893.9 306.9 L892.2 309.6 L890.5 312.3 L888.8 315.0 L887.1 317.8 L885.4 320.5 L883.7 323.3 L882.0 326.1 L880.4 328.9 L878.7 331.7 L877.1 334.6 L875.6 337.4 L874.0 340.3 L872.5 343.3 L871.0 346.2 L869.6 349.1 L868.2 352.1 L866.9 355.1 L865.6 358.1 L864.4 361.1 L863.2 364.1 L862.1 367.2 L861.0 370.2 L860.0 373.3 L859.1 376.4 L858.2 379.4 L857.4 382.5 L856.6 385.7 L856.0 388.8 L855.4 391.9 L854.9 395.0 L854.4 398.2 L854.1 401.3 L853.8 404.5 L853.5 407.6 L853.4 410.8 L853.3 414.0 L853.2 417.1 L853.2 420.3 L853.3 423.5 L853.4 426.6 L853.6 429.8 L853.8 433.0 L854.1 436.2 L854.4 439.3 L854.8 442.5 L855.2 445.7 L855.7 448.8 L856.1 452.0 L856.7 455.2 L857.2 458.3 L857.8 461.5 L858.4 464.6 L859.1 467.7 L859.8 470.9 L860.5 474.0 L861.2 477.1 L862.0 480.2 L862.7 483.3 L863.5 486.4 L864.3 489.5 L865.1 492.6 L866.0 495.7 L866.8 498.8 L867.7 501.9 L868.5 505.0 L869.4 508.1 L870.3 511.2 L871.1 514.3 L872.0 517.4 L872.9 520.5 L873.7 523.5 L874.6 526.6 L875.5 529.7 L876.3 532.8 L877.2 535.9 L878.0 539.0 L878.8 542.0 L879.7 545.1 L880.5 548.2 L881.4 551.3 L882.2 554.4 L883.0 557.5 L883.8 560.6 L884.7 563.7 L885.5 566.8 L886.3 569.9 L887.2 573.0 L888.0 576.1 L888.9 579.2 L889.7 582.3 L890.6 585.5 L891.4 588.6 L892.3 591.7 L893.1 594.8 L894.0 598.0 L894.8 601.1 L895.7 604.3 L896.5 607.4 L897.3 610.6 L898.1 613.7 L898.9 616.9 L899.7 620.0 L900.4 623.2 L901.1 626.4 L901.8 629.5 L902.4 632.7 L903.0 635.9 L903.6 639.0 L904.1 642.2 L904.6 645.4 L905.0 648.5 L905.3 651.7 L905.6 654.8 L905.9 658.0 L906.1 661.2 L906.2 664.3 L906.2 667.5 L906.2 670.6 L906.2 673.8 L906.1 676.9 L905.9 680.1 L905.6 683.2 L905.3 686.3 L905.0 689.5 L904.6 692.6 L904.1 695.7 L903.6 698.8 L903.1 702.0 L902.4 705.1 L901.8 708.2 L901.1 711.2 L900.3 714.3 L899.5 717.4 L898.6 720.5 L897.7 723.6 L896.8 726.6 L895.8 729.7 L894.8 732.7 L893.7 735.8 L892.7 738.8 L891.6 741.9 L890.5 744.9 L889.4 748.0 L888.2 751.0 L887.1 754.0 L885.9 757.1 L884.8 760.1 L883.6 763.2 L882.4 766.2 L881.3 769.2 L880.1 772.3 L879.0 775.3 L877.9 778.4 L876.7 781.4 L875.6 784.5 L874.6 787.5 L873.5 790.6 L872.5 793.6 L871.5 796.7 L870.6 799.8 L869.7 802.8 L868.8 805.9 L868.0 809.0 L867.2 812.1 L866.5 815.2 L865.8 818.3 L865.2 821.5 L864.6 824.6 L864.1 827.7 L863.7 830.9 L863.3 834.1 L863.1 837.2 L862.8 840.4 L862.7 843.0" stroke-width="2.05"/>
<path d="M687.8 82.3 L691.0 82.3 L694.2 82.3 L697.4 82.3 L700.6 82.2 L703.8 82.2 L707.0 82.2 L710.2 82.2 L713.4 82.1 L716.6 82.1 L719.8 82.1 L723.1 82.1 L726.3 82.2 L729.5 82.2 L732.7 82.3 L735.9 82.4 L739.1 82.6 L742.3 82.8 L745.5 83.0 L748.7 83.3 L751.9 83.7 L755.1 84.1 L758.3 84.5 L761.5 85.0 L764.6 85.5 L767.8 86.1 L771.0 86.7 L774.1 87.3 L777.2 88.0 L780.3 88.7 L783.5 89.5 L786.6 90.3 L789.6 91.2 L792.7 92.1 L795.8 93.0 L798.8 94.0 L801.8 95.0 L804.9 96.0 L807.9 97.1 L810.8 98.3 L813.8 99.4 L816.7 100.7 L819.7 101.9 L822.6 103.2 L825.5 104.6 L828.3 106.0 L831.2 107.4 L834.0 108.9 L836.8 110.4 L839.6 111.9 L842.4 113.5 L845.1 115.2 L847.8 116.8 L850.5 118.6 L853.1 120.3 L855.8 122.1 L858.4 124.0 L861.0 125.9 L863.5 127.8 L866.0 129.8 L868.5 131.8 L871.0 133.8 L873.4 135.9 L875.8 138.1 L878.2 140.3 L880.5 142.5 L882.8 144.7 L885.1 147.1 L887.3 149.4 L889.4 151.8" stroke-width="2.3"/>
<path d="M889.4 151.8 L891.6 154.2 L893.7 156.7 L895.7 159.2 L897.7 161.7 L899.6 164.3 L901.5 166.9 L903.4 169.5 L905.2 172.2 L906.9 174.9 L908.6 177.7 L910.2 180.5 L911.8 183.3 L913.3 186.1 L914.7 189.0 L916.1 191.9 L917.4 194.9 L918.6 197.8 L919.8 200.8 L920.9 203.9 L921.9 206.9 L922.9 210.0 L923.8 213.1 L924.6 216.3 L925.3 219.5 L925.9 222.7 L926.5 225.9 L927.0 229.1 L927.4 232.3 L927.7 235.6 L927.9 238.8 L928.0 242.1 L928.1 245.3 L928.0 248.5 L927.8 251.7 L927.6 254.9 L927.2 258.1 L926.8 261.2 L926.2 264.3 L925.5 267.4 L924.8 270.4 L923.9 273.4 L922.9 276.3 L921.8 279.2 L920.7 282.1 L919.4 284.9 L918.1 287.7 L916.7 290.5 L915.2 293.2 L913.7 296.0 L912.1 298.7 L910.5 301.4 L908.9 304.2 L907.2 306.9 L905.5 309.6 L903.8 312.3 L902.1 315.0 L900.4 317.8 L898.7 320.5 L897.0 323.3 L895.3 326.1 L893.7 328.9 L892.0 331.7 L890.4 334.6 L888.9 337.4 L887.3 340.3 L885.8 343.3 L884.3 346.2 L882.9 349.1 L881.5 352.1 L880.2 355.1 L878.9 358.1 L877.7 361.1 L876.5 364.1 L875.4 367.2 L874.3 370.2 L873.3 373.3 L872.4 376.4 L871.5 379.4 L870.7 382.5 L869.9 385.7 L869.3 388.8 L868.7 391.9 L868.2 395.0 L867.7 398.2 L867.4 401.3 L867.1 404.5 L866.8 407.6 L866.7 410.8 L866.6 414.0 L866.5 417.1 L866.5 420.3 L866.6 423.5 L866.7 426.6 L866.9 429.8 L867.1 433.0 L867.4 436.2 L867.7 439.3 L868.1 442.5 L868.5 445.7 L869.0 448.8 L869.4 452.0 L870.0 455.2 L870.5 458.3 L871.1 461.5 L871.7 464.6 L872.4 467.7 L873.1 470.9 L873.8 474.0 L874.5 477.1 L875.3 480.2 L876.0 483.3 L876.8 486.4 L877.6 489.5 L878.4 492.6 L879.3 495.7 L880.1 498.8 L881.0 501.9 L881.8 505.0 L882.7 508.1 L883.6 511.2 L884.4 514.3 L885.3 517.4 L886.2 520.5 L887.0 523.5 L887.9 526.6 L888.8 529.7 L889.6 532.8 L890.5 535.9 L891.3 539.0 L892.1 542.0 L893.0 545.1 L893.8 548.2 L894.7 551.3 L895.5 554.4 L896.3 557.5 L897.1 560.6 L898.0 563.7 L898.8 566.8 L899.6 569.9 L900.5 573.0 L901.3 576.1 L902.2 579.2 L903.0 582.3 L903.9 585.5 L904.7 588.6 L905.6 591.7 L906.4 594.8 L907.3 598.0 L908.1 601.1 L909.0 604.3 L909.8 607.4 L910.6 610.6 L911.4 613.7 L912.2 616.9 L913.0 620.0 L913.7 623.2 L914.4 626.4 L915.1 629.5 L915.7 632.7 L916.3 635.9 L916.9 639.0 L917.4 642.2 L917.9 645.4 L918.3 648.5 L918.6 651.7 L918.9 654.8 L919.2 658.0 L919.4 661.2 L919.5 664.3 L919.5 667.5 L919.5 670.6 L919.5 673.8 L919.4 676.9 L919.2 680.1 L918.9 683.2 L918.6 686.3 L918.3 689.5 L917.9 692.6 L917.4 695.7 L916.9 698.8 L916.4 702.0 L915.7 705.1 L915.1 708.2 L914.4 711.2 L913.6 714.3 L912.8 717.4 L911.9 720.5 L911.0 723.6 L910.1 726.6 L909.1 729.7 L908.1 732.7 L907.0 735.8 L906.0 738.8 L904.9 741.9 L903.8 744.9 L902.7 748.0 L901.5 751.0 L900.4 754.0 L899.2 757.1 L898.1 760.1 L896.9 763.2 L895.7 766.2 L894.6 769.2 L893.4 772.3 L892.3 775.3 L891.2 778.4 L890.0 781.4 L888.9 784.5 L887.9 787.5 L886.8 790.6 L885.8 793.6 L884.8 796.7 L883.9 799.8 L883.0 802.8 L882.1 805.9 L881.3 809.0 L880.5 812.1 L879.8 815.2 L879.1 818.3 L878.5 821.5 L877.9 824.6 L877.4 827.7 L877.0 830.9 L876.6 834.1 L876.4 837.2 L876.1 840.4 L876.0 843.0" stroke-width="2.05"/>
<path d="M690.1 82.2 L693.2 82.2 L696.4 82.3 L699.6 82.3 L702.8 82.3 L706.0 82.3 L709.2 82.3 L712.4 82.2 L715.6 82.2 L718.8 82.2 L722.0 82.2 L725.2 82.1 L728.4 82.1 L731.6 82.1 L734.9 82.1 L738.1 82.2 L741.3 82.2 L744.5 82.3 L747.7 82.4 L750.9 82.6 L754.1 82.8 L757.3 83.0 L760.5 83.3 L763.7 83.7 L766.9 84.1 L770.1 84.5 L773.3 85.0 L776.4 85.5 L779.6 86.1 L782.8 86.7 L785.9 87.3 L789.0 88.0 L792.1 88.7 L795.3 89.5 L798.4 90.3 L801.4 91.2 L804.5 92.1 L807.6 93.0 L810.6 94.0 L813.6 95.0 L816.7 96.0 L819.7 97.1 L822.6 98.3 L825.6 99.4 L828.5 100.7 L831.5 101.9 L834.4 103.2 L837.3 104.6 L840.1 106.0 L843.0 107.4 L845.8 108.9 L848.6 110.4 L851.4 111.9 L854.2 113.5 L856.9 115.2 L859.6 116.8 L862.3 118.6 L864.9 120.3 L867.6 122.1 L870.2 124.0 L872.8 125.9 L875.3 127.8 L877.8 129.8 L880.3 131.8 L882.8 133.8 L885.2 135.9 L887.6 138.1 L890.0 140.3 L892.3 142.5 L894.6 144.7 L896.9 147.1 L899.1 149.4 L901.2 151.8" stroke-width="2.3"/>
<path d="M901.2 151.8 L903.4 154.2 L905.5 156.7 L907.5 159.2 L909.5 161.7 L911.4 164.3 L913.3 166.9 L915.2 169.5 L917.0 172.2 L918.7 174.9 L920.4 177.7 L922.0 180.5 L923.6 183.3 L925.1 186.1 L926.5 189.0 L927.9 191.9 L929.2 194.9 L930.4 197.8 L931.6 200.8 L932.7 203.9 L933.7 206.9 L934.7 210.0 L935.6 213.1 L936.4 216.3 L937.1 219.5 L937.7 222.7 L938.3 225.9 L938.8 229.1 L939.2 232.3 L939.5 235.6 L939.7 238.8 L939.8 242.1 L939.9 245.3 L939.8 248.5 L939.6 251.7 L939.4 254.9 L939.0 258.1 L938.6 261.2 L938.0 264.3 L937.3 267.4 L936.6 270.4 L935.7 273.4 L934.7 276.3 L933.6 279.2 L932.5 282.1 L931.2 284.9 L929.9 287.7 L928.5 290.5 L927.0 293.2 L925.5 296.0 L923.9 298.7 L922.3 301.4 L920.7 304.2 L919.0 306.9 L917.3 309.6 L915.6 312.3 L913.9 315.0 L912.2 317.8 L910.5 320.5 L908.8 323.3 L907.1 326.1 L905.5 328.9 L903.8 331.7 L902.2 334.6 L900.7 337.4 L899.1 340.3 L897.6 343.3 L896.1 346.2 L894.7 349.1 L893.3 352.1 L892.0 355.1 L890.7 358.1 L889.5 361.1 L888.3 364.1 L887.2 367.2 L886.1 370.2 L885.1 373.3 L884.2 376.4 L883.3 379.4 L882.5 382.5 L881.7 385.7 L881.1 388.8 L880.5 391.9 L880.0 395.0 L879.5 398.2 L879.2 401.3 L878.9 404.5 L878.6 407.6 L878.5 410.8 L878.4 414.0 L878.3 417.1 L878.3 420.3 L878.4 423.5 L878.5 426.6 L878.7 429.8 L878.9 433.0 L879.2 436.2 L879.5 439.3 L879.9 442.5 L880.3 445.7 L880.8 448.8 L881.2 452.0 L881.8 455.2 L882.3 458.3 L882.9 461.5 L883.5 464.6 L884.2 467.7 L884.9 470.9 L885.6 474.0 L886.3 477.1 L887.1 480.2 L887.8 483.3 L888.6 486.4 L889.4 489.5 L890.2 492.6 L891.1 495.7 L891.9 498.8 L892.8 501.9 L893.6 505.0 L894.5 508.1 L895.4 511.2 L896.2 514.3 L897.1 517.4 L898.0 520.5 L898.8 523.5 L899.7 526.6 L900.6 529.7 L901.4 532.8 L902.3 535.9 L903.1 539.0 L903.9 542.0 L904.8 545.1 L905.6 548.2 L906.5 551.3 L907.3 554.4 L908.1 557.5 L908.9 560.6 L909.8 563.7 L910.6 566.8 L911.4 569.9 L912.3 573.0 L913.1 576.1 L914.0 579.2 L914.8 582.3 L915.7 585.5 L916.5 588.6 L917.4 591.7 L918.2 594.8 L919.1 598.0 L919.9 601.1 L920.8 604.3 L921.6 607.4 L922.4 610.6 L923.2 613.7 L924.0 616.9 L924.8 620.0 L925.5 623.2 L926.2 626.4 L926.9 629.5 L927.5 632.7 L928.1 635.9 L928.7 639.0 L929.2 642.2 L929.7 645.4 L930.1 648.5 L930.4 651.7 L930.7 654.8 L931.0 658.0 L931.2 661.2 L931.3 664.3 L931.3 667.5 L931.3 670.6 L931.3 673.8 L931.2 676.9 L931.0 680.1 L930.7 683.2 L930.4 686.3 L930.1 689.5 L929.7 692.6 L929.2 695.7 L928.7 698.8 L928.2 702.0 L927.5 705.1 L926.9 708.2 L926.2 711.2 L925.4 714.3 L924.6 717.4 L923.7 720.5 L922.8 723.6 L921.9 726.6 L920.9 729.7 L919.9 732.7 L918.8 735.8 L917.8 738.8 L916.7 741.9 L915.6 744.9 L914.5 748.0 L913.3 751.0 L912.2 754.0 L911.0 757.1 L909.9 760.1 L908.7 763.2 L907.5 766.2 L906.4 769.2 L905.2 772.3 L904.1 775.3 L903.0 778.4 L901.8 781.4 L900.7 784.5 L899.7 787.5 L898.6 790.6 L897.6 793.6 L896.6 796.7 L895.7 799.8 L894.8 802.8 L893.9 805.9 L893.1 809.0 L892.3 812.1 L891.6 815.2 L890.9 818.3 L890.3 821.5 L889.7 824.6 L889.2 827.7 L888.8 830.9 L888.4 834.1 L888.2 837.2 L887.9 840.4 L887.8 843.0" stroke-width="2.05"/>
</g>
<path d="M689 81.1 L745 81.3 L760 82.3 L772 84.2 L781 86.6 L771 88.8 L758 88.8 L745 88.4 L689 87.8 Z" fill="#101010"/>
<path d="M138.7 88.5 L144.8 86.9 L151.0 85.3 L157.1 83.7 L163.2 82.2 L169.3 80.6 L175.5 79.0 L181.7 77.4 L187.9 75.8 L194.4 74.2 L201.2 72.4 L208.2 70.7 L215.1 69.0 L221.8 67.3 L228.1 65.7 L233.8 64.3 L238.8 63.1 L242.8 62.1 L245.9 61.4 L248.4 60.8 L250.5 60.3 L252.4 59.8 L254.5 59.3 L256.9 58.7 L260.0 58.0 L263.6 57.1 L267.6 56.1 L271.8 55.1 L276.1 54.0 L280.6 52.9 L285.1 51.8 L289.6 50.7 L293.9 49.7 L298.2 48.7 L302.6 47.7 L307.0 46.6 L311.4 45.6 L315.8 44.6 L320.0 43.7 L324.1 42.9 L327.9 42.1 L331.5 41.4 L334.9 40.8 L338.1 40.3 L341.1 39.8 L344.1 39.4 L347.1 39.0 L350.2 38.6 L353.3 38.3 L356.5 38.0 L359.8 37.8 L363.0 37.5 L366.3 37.4 L369.5 37.2 L372.7 37.1 L375.8 37.0 L378.8 37.0 L381.6 37.0 L384.3 37.0 L386.9 37.0 L389.4 37.1 L391.9 37.2 L394.5 37.3 L397.2 37.5 L400.0 37.7 L403.0 37.9 L406.1 38.2 L409.2 38.5 L412.4 38.8 L415.7 39.2 L418.9 39.5 L422.2 40.0 L425.4 40.4 L428.6 40.9 L431.8 41.4 L435.0 41.9 L438.1 42.5 L441.3 43.1 L444.5 43.7 L447.7 44.4 L450.9 45.1 L454.1 45.9 L457.3 46.7 L460.4 47.6 L463.6 48.5 L466.8 49.4 L469.9 50.3 L473.1 51.3 L476.3 52.2 L479.5 53.1 L482.7 54.1 L485.9 55.0 L489.1 56.0 L492.2 56.9 L495.4 57.9 L498.6 58.9 L501.8 59.9 L505.1 61.0 L508.5 62.1 L511.9 63.2 L515.3 64.4 L518.6 65.5 L521.7 66.6 L524.6 67.5 L527.2 68.4 L529.4 69.1 L531.3 69.8 L532.9 70.3 L534.4 70.8 L535.8 71.3 L537.1 71.7 L538.5 72.2 L540.0 72.7 L541.6 73.2 L543.2 73.8 L544.8 74.3 L546.4 74.9 L547.9 75.4 L549.5 75.9 L551.1 76.5 L552.7 77.0 L554.3 77.5 L555.9 78.1 L557.5 78.6 L559.1 79.1 L560.7 79.7 L562.3 80.2 L563.9 80.7 L565.5 81.2 L567.1 81.7 L568.6 82.2 L570.2 82.6 L571.7 83.1 L573.3 83.6 L574.9 84.0 L576.4 84.5 L578.0 84.9 L579.6 85.3 L581.2 85.8 L582.8 86.2 L584.5 86.6 L586.1 87.0 L587.7 87.4 L589.3 87.8 L590.9 88.2 L592.4 88.6 L594.0 88.9 L595.5 89.2 L597.0 89.6 L598.5 89.9 L600.0 90.2 L601.5 90.4 L603.0 90.7 L604.5 91.0 L606.1 91.2 L607.7 91.4 L609.2 91.6 L610.8 91.8 L612.4 92.0 L613.9 92.2 L615.5 92.4" fill="none" stroke="#111" stroke-width="2" stroke-linecap="round"/>
<rect x="125" y="86.9" width="13.2" height="4" fill="#fff" stroke="#0a0a0a" stroke-width="1.4"/>
<circle cx="621.3" cy="86.1" r="6" fill="none" stroke="#131313" stroke-width="2.1"/>
<rect x="623.5" y="73.2" width="66.8" height="25" rx="9.5" ry="11.5" fill="#1b1b1d"/>
<path d="M135.2 117.8 V155.5 M630.7 117.8 V156.5 M141.7 136.6 H625.6" stroke="#111" stroke-width="1.5" fill="none"/>
<path d="M693.6 100 L701 838" stroke="#111" stroke-width="1.6" fill="none"/>
<path d="M693.5 93.6 L697.3 108 L689.9 108 Z" fill="#111"/>
<path d="M701.1 843.6 L697.1 829.4 L705.1 829.4 Z" fill="#111"/>
<rect x="43.6" y="60" width="82.6" height="82" rx="8" ry="8" fill="#060606"/>
<rect x="54.10" y="69.9" width="2.00" height="61.2" fill="#fff"/>
<rect x="57.80" y="69.9" width="2.30" height="61.2" fill="#fff"/>
<rect x="62.00" y="69.9" width="4.80" height="61.2" fill="#fff"/>
<rect x="68.10" y="69.9" width="4.10" height="61.2" fill="#fff"/>
<rect x="73.20" y="69.9" width="3.90" height="61.2" fill="#fff"/>
<rect x="79.80" y="69.9" width="3.90" height="61.2" fill="#fff"/>
<rect x="85.90" y="69.9" width="2.80" height="61.2" fill="#fff"/>
<rect x="90.00" y="69.9" width="3.00" height="61.2" fill="#fff"/>
<rect x="94.50" y="69.9" width="1.70" height="61.2" fill="#fff"/>
<rect x="98.50" y="69.9" width="3.40" height="61.2" fill="#fff"/>
<rect x="104.00" y="69.9" width="3.80" height="61.2" fill="#fff"/>
<rect x="109.10" y="69.9" width="1.90" height="61.2" fill="#fff"/>
<rect x="112.70" y="69.9" width="3.20" height="61.2" fill="#fff"/>
<rect x="53" y="97.85" width="64" height="1.8" fill="#060606"/>
<path d="M77.3 140 L93.4 140 L93.3 235.6 L92.3 236.4 L91.2 296 L90.9 310 L90.4 317 L89 324.2 L86.9 331.2 L84.8 337 L83.1 331.2 L81.2 324.2 L79.8 317 L79.1 310 L78.8 296 L78.1 236.4 L77.3 235.6 Z" fill="#060606"/>
</svg>
<span class="t" style="left:1.33px;top:-0.36px;transform:scaleX(0.9281)">Solar</span>
<span class="t" style="left:81.80px;top:-0.36px;transform:scaleX(1.0356)">charging</span>
<span class="t" style="left:217.21px;top:-0.36px;transform:scaleX(1.0532)">board</span>
<span class="t" style="left:68.14px;top:438.94px;transform:scaleX(1.0709)">11</span>
<span class="t" style="left:112.77px;top:438.94px;transform:scaleX(0.9751)">Strands</span>
<span class="t" style="left:228.80px;top:438.94px;transform:scaleX(1.0132)">220</span>
<span class="t" style="left:292.32px;top:438.94px;transform:scaleX(0.8632)">LEDs</span>
<span class="t" style="left:69.06px;top:496.84px;transform:scaleX(0.9779)">22</span>
<span class="t" style="left:112.97px;top:496.84px;transform:scaleX(1.0214)">led</span>
<span class="t" style="left:166.44px;top:496.84px;transform:scaleX(0.9323)">per</span>
<span class="t" style="left:222.32px;top:496.84px;transform:scaleX(1.0175)">copper</span>
<span class="t" style="left:332.82px;top:496.84px;transform:scaleX(1.0030)">wire</span>
<span class="t" style="left:400.86px;top:496.84px;transform:scaleX(1.0224)">string</span>
<span class="t" style="left:491.03px;top:496.84px;transform:scaleX(1.0435)">light</span>
<span class="t" style="left:71.02px;top:545.94px;transform:scaleX(0.9337)">Solar</span>
<span class="t" style="left:152.64px;top:545.94px;transform:scaleX(1.0352)">powered</span>
<span class="t" style="left:71.03px;top:604.64px;transform:scaleX(0.9325)">8</span>
<span class="t" style="left:98.70px;top:604.64px;transform:scaleX(0.9650)">flash</span>
<span class="t" style="left:172.65px;top:604.64px;transform:scaleX(1.0326)">modes</span>
<span class="t" style="left:72.20px;top:662.64px;transform:scaleX(1.0257)">Warm</span>
<span class="t" style="left:168.50px;top:662.64px;transform:scaleX(1.0242)">White</span>
<span class="d" style="left:299.07px;top:135.31px;font-size:42.5px;line-height:42.5px;transform:scaleX(1.1211)">3.3</span>
<span class="d" style="left:370.24px;top:135.31px;font-size:42.5px;line-height:42.5px;transform:scaleX(0.8584)">FT</span>
<span class="d" style="left:582.30px;top:434.79px;font-size:43.0px;line-height:43.0px;transform:scaleX(1.1609)">6.6</span>
<span class="d" style="left:645.65px;top:434.79px;font-size:43.0px;line-height:43.0px;transform:scaleX(0.8079)">FT</span>
</body>
</html>
